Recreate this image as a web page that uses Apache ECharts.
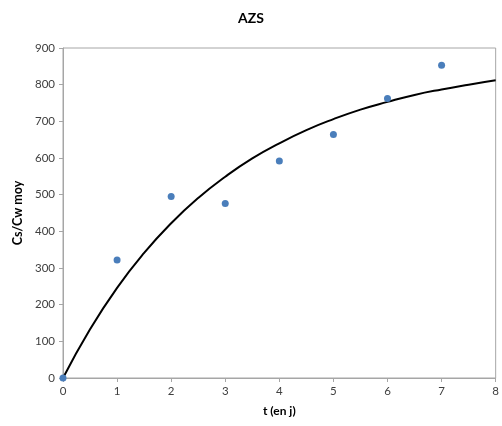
<!DOCTYPE html>
<html><head><meta charset="utf-8">
<script src="https://cdn.jsdelivr.net/npm/echarts@6/dist/echarts.min.js"></script>
<style>html,body{margin:0;padding:0;background:#fff}#c{width:502px;height:426px}</style>
</head><body><div id="c"></div>
<script>
const obsT = [0, 1, 2, 3, 4, 5, 6, 7];
const obsVal = [0, 322, 495, 476, 592, 664, 762, 853];
const curveT = [0, 0.5, 1, 1.5, 2, 2.5, 3, 3.5, 4, 4.5, 5, 5.5, 6, 6.5, 7, 7.5, 8];
const curveVal = [0, 133, 246, 341, 422, 491, 549, 599, 640, 676, 706, 732, 753, 772, 787, 800, 812];
const xTicks = [0, 1, 2, 3, 4, 5, 6, 7, 8];
const yTicks = [0, 100, 200, 300, 400, 500, 600, 700, 800, 900];

const font = 'Lato, "Open Sans", sans-serif';
const chart = echarts.init(document.getElementById('c'), null, {renderer: 'canvas'});
chart.setOption({
  animation: false,
  title: {text: 'AZS', left: 'center', top: 6,
    textStyle: {fontFamily: font, fontSize: 14, fontWeight: 'bold', color: '#000'}},
  grid: {left: 63, right: 5, top: 48, bottom: 48, show: true, borderColor: '#a6a6a6', borderWidth: 1},
  xAxis: {type: 'value', min: xTicks[0], max: xTicks[xTicks.length - 1], interval: 1,
    name: 't (en j)', nameLocation: 'middle', nameGap: 27,
    nameTextStyle: {fontFamily: font, fontSize: 12, fontWeight: 'bold', color: '#000'},
    axisLine: {lineStyle: {color: '#a6a6a6'}},
    axisTick: {show: true, length: 4, lineStyle: {color: '#a6a6a6'}},
    axisLabel: {fontFamily: font, fontSize: 11.5, color: '#404040', margin: 7},
    splitLine: {show: false}},
  yAxis: {type: 'value', min: yTicks[0], max: yTicks[yTicks.length - 1], interval: 100,
    name: 'Cs/Cw moy', nameLocation: 'middle', nameGap: 37,
    nameTextStyle: {fontFamily: font, fontSize: 12.5, fontWeight: 'bold', color: '#000'},
    axisLine: {show: true, lineStyle: {color: '#a6a6a6'}},
    axisTick: {show: true, length: 4, lineStyle: {color: '#a6a6a6'}},
    axisLabel: {fontFamily: font, fontSize: 11.5, color: '#404040', margin: 8},
    splitLine: {show: false}},
  series: [
    {type: 'line', data: curveT.map((t, i) => [t, curveVal[i]]), smooth: true, showSymbol: false,
      lineStyle: {color: '#000', width: 2}, z: 2},
    {type: 'scatter', data: obsT.map((t, i) => [t, obsVal[i]]), symbolSize: 7,
      itemStyle: {color: '#4a7ebb', opacity: 1}, z: 3}
  ]
});
</script></body></html>
